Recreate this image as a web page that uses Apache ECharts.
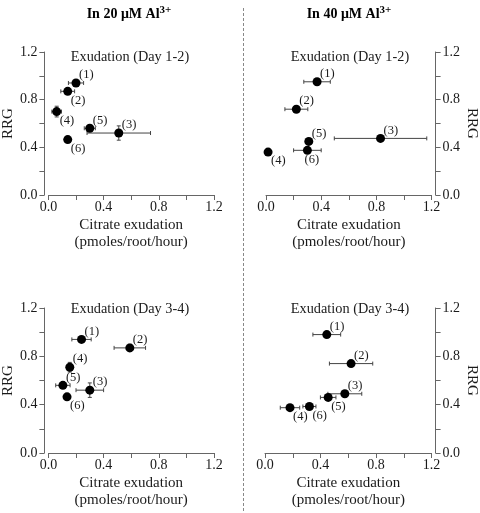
<!DOCTYPE html>
<html><head><meta charset="utf-8">
<script src="https://cdn.jsdelivr.net/npm/echarts@6/dist/echarts.min.js"></script>
<style>html,body{margin:0;padding:0;background:#fff}#c{width:480px;height:513px}</style>
</head><body><div id="c"></div>
<script>
// ---- data ----
const pointIds = ['(1)','(2)','(3)','(4)','(5)','(6)'];
const panelTitles = ['Exudation (Day 1-2)','Exudation (Day 1-2)','Exudation (Day 3-4)','Exudation (Day 3-4)'];
const columnTitles = ['In 20 \u03bcM Al','In 40 \u03bcM Al'];
const ionCharge = '3+';
const xAxisName = 'Citrate exudation\n(pmoles/root/hour)';
const yAxisName = 'RRG';
const axisTicks = [0.0, 0.4, 0.8, 1.2];

// 20 uM, Day 1-2
const al20d12_x  = [0.20, 0.14, 0.51, 0.06, 0.30, 0.14];
const al20d12_y  = [0.94, 0.87, 0.52, 0.70, 0.56, 0.465];
const al20d12_xe = [0.055, 0.05, 0.23, 0.035, 0.04, 0.0];
const al20d12_ye = [0.02, 0.02, 0.06, 0.045, 0.025, 0.0];
// 40 uM, Day 1-2
const al40d12_x  = [0.37, 0.22, 0.83, 0.015, 0.31, 0.30];
const al40d12_y  = [0.95, 0.72, 0.475, 0.36, 0.45, 0.375];
const al40d12_xe = [0.096, 0.083, 0.335, 0.0, 0.0, 0.10];
const al40d12_ye = [0.01, 0.01, 0.02, 0.0, 0.01, 0.01];
// 20 uM, Day 3-4
const al20d34_x  = [0.24, 0.59, 0.30, 0.155, 0.105, 0.135];
const al20d34_y  = [0.94, 0.87, 0.52, 0.71, 0.56, 0.465];
const al20d34_xe = [0.07, 0.114, 0.10, 0.0, 0.052, 0.0];
const al20d34_ye = [0.02, 0.03, 0.06, 0.04, 0.02, 0.0];
// 40 uM, Day 3-4
const al40d34_x  = [0.445, 0.62, 0.575, 0.18, 0.455, 0.32];
const al40d34_y  = [0.98, 0.74, 0.49, 0.375, 0.46, 0.385];
const al40d34_xe = [0.10, 0.156, 0.122, 0.07, 0.056, 0.047];
const al40d34_ye = [0.02, 0.02, 0.02, 0.02, 0.02, 0.015];

// ---- layout / styles ----
const panels = [
  {x: al20d12_x, y: al20d12_y, xe: al20d12_xe, ye: al20d12_ye, grid:{left:44, top:52, width:170, height:143}, side:'left',  place:['ur','lr','ur','lr','ur','lr']},
  {x: al40d12_x, y: al40d12_y, xe: al40d12_xe, ye: al40d12_ye, grid:{left:266, top:52, width:170, height:143}, side:'right', place:['ur','ur','ur','lr','ur','b']},
  {x: al20d34_x, y: al20d34_y, xe: al20d34_xe, ye: al20d34_ye, grid:{left:44, top:308, width:170, height:145}, side:'left',  place:['ur','ur','ur','ur','ur','lr']},
  {x: al40d34_x, y: al40d34_y, xe: al40d34_xe, ye: al40d34_ye, grid:{left:265, top:308, width:170, height:145}, side:'right', place:['ur','ur','ur','lr','lr','lr']}
];
const FONT = 'Liberation Serif';
const AXC = '#666';
const TXT = '#1a1a1a';
const labelPos = {ur:{position:[7.5,-3.5], align:'left'}, lr:{position:[7.5,13.5], align:'left'}, b:{position:[9,14], align:'center'}};

const tickFmt = v => { const k = Math.round(v*10); return (k % 4 === 0) ? v.toFixed(1) : ''; };

const grids = [], xAxes = [], yAxes = [], series = [];
panels.forEach((p, i) => {
  grids.push(Object.assign({containLabel:false}, p.grid));
  xAxes.push({
    type:'value', gridIndex:i, min:0, max:1.2, interval:0.2,
    axisLine:{show:true, onZero:false, lineStyle:{color:AXC, width:1}},
    axisTick:{show:true, length:5, lineStyle:{color:AXC}},
    splitLine:{show:false},
    axisLabel:{formatter:tickFmt, color:TXT, fontFamily:FONT, fontSize:14, margin:5, showMinLabel:true, showMaxLabel:true},
    name:xAxisName, nameLocation:'middle', nameGap:22,
    nameTextStyle:{fontFamily:FONT, fontSize:15, color:TXT, lineHeight:17, verticalAlign:'top'}
  });
  yAxes.push({
    type:'value', gridIndex:i, min:0, max:1.2, interval:0.2, position:p.side, offset:4,
    axisLine:{show:true, onZero:false, lineStyle:{color:AXC, width:1}},
    axisTick:{show:true, length:5, lineStyle:{color:AXC}},
    splitLine:{show:false},
    axisLabel:{formatter:tickFmt, color:TXT, fontFamily:FONT, fontSize:14, margin:7, showMinLabel:true, showMaxLabel:true},
    name:yAxisName, nameLocation:'middle', nameGap:p.side==='left'?26:26, nameRotate:p.side==='left'?90:-90,
    nameTextStyle:{fontFamily:FONT, fontSize:15, color:TXT}
  });
  const errData = p.x.map((v, k) => [v, p.y[k], p.xe[k], p.ye[k]]);
  series.push({
    type:'custom', xAxisIndex:i, yAxisIndex:i, silent:true, z:2,
    data: errData,
    renderItem: (params, api) => {
      const x = api.value(0), y = api.value(1), xe = api.value(2), ye = api.value(3);
      const ch = [];
      const st = {stroke:'#444', lineWidth:1};
      if (xe > 0) {
        const a = api.coord([x - xe, y]), b = api.coord([x + xe, y]);
        ch.push({type:'line', shape:{x1:a[0], y1:a[1], x2:b[0], y2:b[1]}, style:st});
        ch.push({type:'line', shape:{x1:a[0], y1:a[1]-2, x2:a[0], y2:a[1]+2}, style:st});
        ch.push({type:'line', shape:{x1:b[0], y1:b[1]-2, x2:b[0], y2:b[1]+2}, style:st});
      }
      if (ye > 0) {
        const a = api.coord([x, y - ye]), b = api.coord([x, y + ye]);
        ch.push({type:'line', shape:{x1:a[0], y1:a[1], x2:b[0], y2:b[1]}, style:st});
        ch.push({type:'line', shape:{x1:a[0]-2, y1:a[1], x2:a[0]+2, y2:a[1]}, style:st});
        ch.push({type:'line', shape:{x1:b[0]-2, y1:b[1], x2:b[0]+2, y2:b[1]}, style:st});
      }
      return {type:'group', children:ch};
    }
  });
  series.push({
    type:'scatter', xAxisIndex:i, yAxisIndex:i, z:3, symbol:'circle', symbolSize:9,
    itemStyle:{color:'#000', opacity:1},
    data: p.x.map((v, k) => {
      const lp = labelPos[p.place[k]];
      return {value:[v, p.y[k]], label:{show:true, formatter:pointIds[k], position:lp.position, align:lp.align, verticalAlign:'middle',
        fontFamily:FONT, fontSize:12.5, color:TXT}};
    })
  });
});

const graphics = [
  {type:'line', shape:{x1:243.5, y1:8, x2:243.5, y2:513}, style:{stroke:'#888', lineWidth:1, lineDash:[3,2]}},
];
columnTitles.forEach((t, i) => {
  graphics.push({type:'text', x: i===0?129:349, y:13, style:{
    text:'{b|' + t + '}{s|' + ionCharge + '}', align:'center', verticalAlign:'middle',
    rich:{b:{fontFamily:FONT, fontWeight:'bold', fontSize:14, fill:'#000', verticalAlign:'bottom'},
          s:{fontFamily:FONT, fontWeight:'bold', fontSize:11, fill:'#000', verticalAlign:'top', padding:[0,0,6,0]}}
  }});
});
const subPos = [[130,57],[350,57],[130,309],[350,309]];
panelTitles.forEach((t, i) => {
  graphics.push({type:'text', x:subPos[i][0], y:subPos[i][1], style:{text:t, align:'center', verticalAlign:'middle', fontFamily:FONT, fontSize:14.3, fill:TXT}});
});

const chart = echarts.init(document.getElementById('c'), null, {renderer:'canvas'});
chart.setOption({
  animation:false,
  backgroundColor:'#fff',
  grid:grids, xAxis:xAxes, yAxis:yAxes, series:series, graphic:graphics
});
</script>
</body></html>
